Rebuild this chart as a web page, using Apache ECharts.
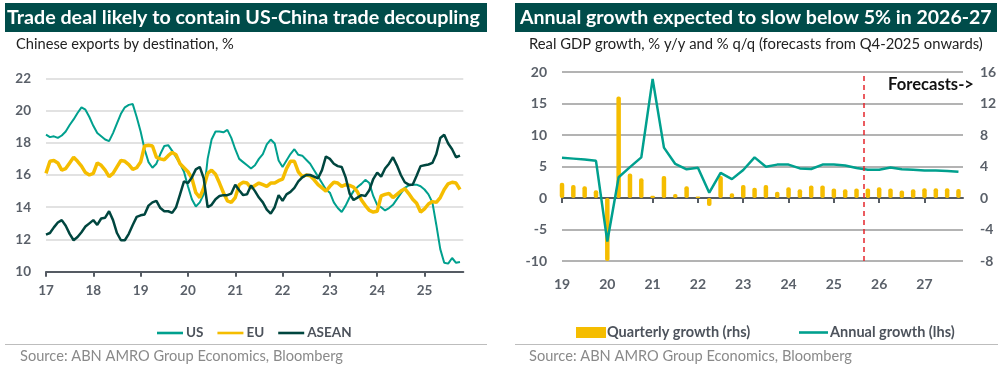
<!DOCTYPE html>
<html><head><meta charset="utf-8">
<script src="https://cdn.jsdelivr.net/npm/echarts@6/dist/echarts.min.js"></script>
<style>html,body{margin:0;padding:0;background:#fff}#c{width:1005px;height:367px}</style>
</head><body><div id="c"></div>
<script>
// ---- Left chart: Chinese exports by destination, % (monthly, Jan 2017 - Oct 2025)
const startYear = 2017;
const us = [18.5,18.35,18.4,18.3,18.45,18.7,19.1,19.45,19.85,20.2,20.05,19.6,
 19.05,18.6,18.4,18.2,18.1,18.6,19.2,19.8,20.2,20.35,20.4,19.6,
 18.7,17.6,16.8,16.45,16.7,17.3,17.8,17.85,17.5,17.1,16.7,16.2,
 15.3,14.5,14.05,14.3,14.8,17.0,18.2,18.7,18.7,18.65,18.8,18.3,
 17.6,17.0,16.8,16.6,16.4,16.6,17.0,17.3,17.9,18.2,17.95,16.9,
 16.5,16.9,17.3,17.6,17.25,17.2,16.95,16.7,16.3,15.9,15.5,15.1,
 14.9,14.3,13.95,13.7,14.1,14.6,15.0,15.25,15.45,15.7,15.5,14.7,
 14.15,14.0,13.8,13.95,14.15,14.5,14.85,15.2,15.35,15.4,15.4,15.3,
 15.1,14.8,14.3,12.9,11.4,10.55,10.5,10.85,10.55,10.6];
const eu = [16.1,16.85,16.9,16.75,16.3,16.4,16.75,17.1,16.85,16.55,16.15,16.0,
 16.1,16.75,16.6,16.3,15.9,16.1,16.5,16.9,16.85,16.65,16.35,16.45,
 16.8,17.8,17.85,17.8,17.1,17.0,16.95,17.2,17.4,17.25,16.7,16.45,
 16.2,15.8,14.9,14.6,15.2,16.1,16.3,16.05,15.5,14.9,14.4,14.3,
 14.6,15.4,15.55,15.5,15.2,15.35,15.5,15.4,15.3,15.5,15.5,15.65,
 15.75,16.4,16.85,16.85,16.2,15.9,16.0,15.95,15.7,15.4,15.2,15.0,
 15.3,15.55,15.5,15.3,15.4,15.35,15.25,14.95,14.45,14.1,13.8,13.7,
 13.75,14.7,14.8,14.85,14.6,14.8,15.0,15.15,14.85,14.5,14.25,13.7,
 13.9,14.2,14.35,14.3,14.6,15.1,15.45,15.55,15.5,15.1];
const asean = [12.3,12.4,12.75,13.05,13.2,12.85,12.35,11.95,12.15,12.45,12.8,13.0,
 13.2,12.9,13.3,13.35,13.75,13.2,12.4,11.95,11.95,12.35,12.9,13.4,
 13.5,13.55,14.1,14.3,14.4,13.95,13.75,13.75,13.65,14.0,14.8,15.6,
 15.5,15.85,16.35,16.5,15.8,14.0,14.15,14.5,14.7,14.75,14.75,14.85,
 15.4,15.05,14.75,14.8,15.35,15.0,14.6,14.3,13.85,13.6,14.0,14.75,
 14.4,14.8,14.95,15.2,15.6,15.85,16.0,16.0,15.9,15.8,16.3,17.15,
 17.0,16.7,16.55,16.5,15.85,14.85,14.45,14.6,14.75,14.7,15.05,15.75,
 16.15,15.9,16.4,16.7,17.1,16.6,16.0,15.55,15.4,15.4,15.95,16.55,
 16.6,16.65,16.75,17.3,18.3,18.5,17.95,17.6,17.1,17.2];
const leftYears = [2017,2018,2019,2020,2021,2022,2023,2024,2025];

// ---- Right chart: Real GDP growth (quarterly, 2019Q1 - 2027Q4)
const qStartYear = 2019;
const quarterly = [1.95,1.65,1.5,1.0, -8,12.9,3.1,2.5, 0.3,2.8,0.5,1.5, 0.2,-1.0,2.8,0.6,
 1.65,1.3,1.65,0.8, 1.35,1.1,1.6,1.6, 1.2,1.1,1.2,1.2, 1.35,1.2,0.95,1.1, 1.25,1.25,1.25,1.15];
const annual = [6.4,6.25,6.1,5.9, -6.9,3.3,4.9,6.45, 18.9,8.0,5.4,4.55, 4.8,0.85,4.0,3.0,
 4.45,6.45,4.95,5.3, 5.3,4.7,4.6,5.3, 5.3,5.15,4.75,4.5, 4.5,4.85,4.55,4.5, 4.35,4.35,4.3,4.15];
const rightYears = [2019,2020,2021,2022,2023,2024,2025,2026,2027];
const forecastStart = 2025.65;

// ---- helpers
const FAM = 'Lato';
const cv = document.createElement('canvas').getContext('2d');
function fit(text, weight, target) {
  cv.font = weight + ' 100px ' + FAM;
  return 100 * target / cv.measureText(text).width;
}
function txt(text, x, y, target, weight, color) {
  const fs = fit(text, weight, target);
  return {type:'text', x:x, y:y, silent:true,
    style:{text:text, font: weight + ' ' + fs.toFixed(2) + 'px ' + FAM, fill:color, verticalAlign:'middle', align:'left'}};
}
const yy = v => String(Math.round(v) % 100);
const labCol = '#5a6069';
const legCol = '#4d535c';
const TEAL = '#00a08e', YEL = '#f5bd00', DARK = '#00463f', TITLE = '#004c4a';

const chart = echarts.init(document.getElementById('c'), null, {renderer:'canvas'});
chart.setOption({
  animation:false,
  textStyle:{fontFamily:FAM},
  grid:[
    {left:46, top:78.3, width:417.3, height:193.4},
    {left:562, top:72, width:401, height:189}
  ],
  xAxis:[
    {type:'value', gridIndex:0, min:2017, max:2025.82,
     axisLine:{lineStyle:{color:'#555b63', width:2}},
     axisTick:{customValues:leftYears, length:5, lineStyle:{color:'#555b63', width:2}},
     axisLabel:{customValues:leftYears, formatter:yy, color:labCol, fontWeight:'bold', fontSize:13.5, margin:12, fontFamily:FAM},
     splitLine:{show:false}},
    {type:'value', gridIndex:1, min:2019, max:2027.85,
     axisLine:{onZero:true, lineStyle:{color:'#555b63', width:2}},
     axisTick:{customValues:rightYears, length:5, lineStyle:{color:'#555b63', width:2}},
     axisLabel:{show:false}, splitLine:{show:false}},
    {type:'value', gridIndex:1, min:2019, max:2027.85, position:'bottom',
     axisLine:{show:false, onZero:false}, axisTick:{show:false},
     axisLabel:{customValues:rightYears, formatter:yy, color:labCol, fontWeight:'bold', fontSize:14, margin:16, fontFamily:FAM},
     splitLine:{show:false}}
  ],
  yAxis:[
    {type:'value', gridIndex:0, min:10, max:22, interval:2,
     axisLine:{show:false}, axisTick:{show:false},
     splitLine:{lineStyle:{color:'#d9d9d9', width:1.5}},
     axisLabel:{color:labCol, fontWeight:'bold', fontSize:13.5, margin:15, fontFamily:FAM}},
    {type:'value', gridIndex:1, min:-10, max:20, interval:5, position:'left',
     axisLine:{show:false}, axisTick:{show:false},
     splitLine:{lineStyle:{color:'#9a9a9a', width:1.5}},
     axisLabel:{color:labCol, fontWeight:'bold', fontSize:14, margin:15, fontFamily:FAM}},
    {type:'value', gridIndex:1, min:-8, max:16, interval:4, position:'right',
     axisLine:{show:false}, axisTick:{show:false}, splitLine:{show:false},
     axisLabel:{color:labCol, fontWeight:'bold', fontSize:14, margin:17, fontFamily:FAM}}
  ],
  legend:[
    {data:['US','EU','ASEAN'], icon:'rect', left:152, top:321, itemWidth:26, itemHeight:2.6, itemGap:14,
     textStyle:{color:legCol, fontWeight:'bold', fontSize:13.5, fontFamily:FAM, padding:[0,0,0,-2]}},
    {data:['Quarterly growth (rhs)'], icon:'rect', left:571, top:320, itemWidth:30, itemHeight:11,
     textStyle:{color:legCol, fontWeight:'bold', fontSize:14.5, fontFamily:FAM, padding:[0,0,0,-4]}},
    {data:['Annual growth (lhs)'], icon:'rect', left:794, top:320, itemWidth:29, itemHeight:2.6,
     textStyle:{color:legCol, fontWeight:'bold', fontSize:14.5, fontFamily:FAM, padding:[0,0,0,-3]}}
  ],
  series:[
    {name:'US', type:'line', xAxisIndex:0, yAxisIndex:0, symbol:'none', smooth:false,
     data: us.map((v,i)=>[startYear+i/12, v]), lineStyle:{color:TEAL, width:2}, itemStyle:{color:TEAL}},
    {name:'EU', type:'line', xAxisIndex:0, yAxisIndex:0, symbol:'none',
     data: eu.map((v,i)=>[startYear+i/12, v]), lineStyle:{color:YEL, width:3.5}, itemStyle:{color:YEL}},
    {name:'ASEAN', type:'line', xAxisIndex:0, yAxisIndex:0, symbol:'none',
     data: asean.map((v,i)=>[startYear+i/12, v]), lineStyle:{color:DARK, width:2.5}, itemStyle:{color:DARK}},
    {name:'Quarterly growth (rhs)', type:'bar', xAxisIndex:1, yAxisIndex:2, barWidth:4.5,
     data: quarterly.map((v,i)=>[qStartYear+i/4, v]), itemStyle:{color:YEL, borderRadius:2}},
    {name:'Annual growth (lhs)', type:'line', xAxisIndex:1, yAxisIndex:1, symbol:'none', z:4,
     data: annual.map((v,i)=>[qStartYear+i/4, v]), lineStyle:{color:TEAL, width:2.5}, itemStyle:{color:TEAL},
     markLine:{symbol:'none', silent:true, label:{show:false},
       lineStyle:{color:'#e5262d', type:[5,4], width:1.5},
       data:[{xAxis:forecastStart}]}}
  ],
  graphic:[
    {type:'rect', shape:{x:5, y:3, width:482, height:29}, style:{fill:TITLE}, silent:true},
    {type:'rect', shape:{x:515, y:3, width:482, height:29}, style:{fill:TITLE}, silent:true},
    txt('Trade deal likely to contain US-China trade decoupling', 7, 18, 473, 'bold', '#ffffff'),
    txt('Annual growth expected to slow below 5% in 2026-27', 520, 18, 472, 'bold', '#ffffff'),
    txt('Chinese exports by destination, %', 16, 44.5, 218, 'normal', '#222222'),
    txt('Real GDP growth, % y/y and % q/q (forecasts from Q4-2025 onwards)', 529, 44.5, 454, 'normal', '#222222'),
    txt('Forecasts->', 888, 85, 86, 'bold', '#111111'),
    {type:'line', shape:{x1:5, y1:344.5, x2:487, y2:344.5}, style:{stroke:'#bdbdbd', lineWidth:1}, silent:true},
    {type:'line', shape:{x1:515, y1:344.5, x2:998, y2:344.5}, style:{stroke:'#bdbdbd', lineWidth:1}, silent:true},
    txt('Source: ABN AMRO Group Economics, Bloomberg', 20, 356.5, 323, 'normal', '#8a8a8a'),
    txt('Source: ABN AMRO Group Economics, Bloomberg', 529, 356.5, 323, 'normal', '#8a8a8a')
  ]
});
</script></body></html>
